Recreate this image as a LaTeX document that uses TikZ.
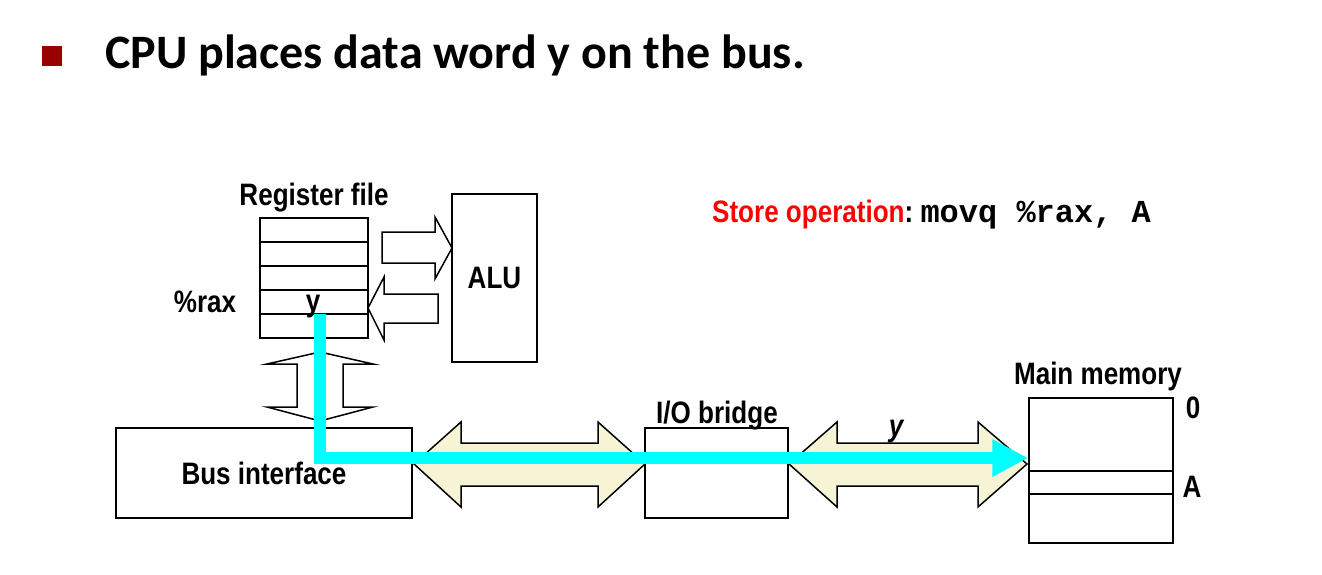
\documentclass[tikz,border=0pt]{standalone}
\usepackage{fontspec}
\setmainfont{Liberation Sans}
\setmonofont{Liberation Mono}
\newfontfamily\narrowfont[FakeStretch=0.84]{Liberation Sans}
\newfontfamily\titlefont{Carlito}
\usetikzlibrary{positioning,arrows.meta}
\definecolor{busfill}{RGB}{247,244,214}
\definecolor{bulletred}{RGB}{153,0,0}
\definecolor{flowcyan}{RGB}{0,255,255}

\begin{document}
\begin{tikzpicture}[x=1pt,y=1pt,
  box/.style={draw,line width=1.5pt,inner sep=0pt},
  lbl/.style={font=\narrowfont\bfseries\fontsize{31}{36}\selectfont,inner sep=0pt},
  blockarrow/.style={draw,line width=1.5pt,fill=white,line join=miter},
  busarrow/.style={blockarrow,fill=busfill},
  flow/.style={draw=flowcyan,line width=12pt,-{Triangle[length=36pt,width=35pt]}}]
  \useasboundingbox (0,0) rectangle (1322,-575);

  % title
  \fill[bulletred] (42,-46) rectangle (62,-66);
  \node[anchor=base west,inner sep=0pt,font=\titlefont\bfseries\fontsize{48}{56}\selectfont] (title) at (105,-69) {CPU places data word y on the bus.};

  % boxes
  \node[box,minimum width=108pt,minimum height=120pt] (rf) at (314,-278) {};
  \foreach \y in {242,266,290,314}
    \draw[line width=1.5pt] (260,-\y) -- (368,-\y);
  \node[box,lbl,minimum width=85pt,minimum height=168pt] (alu) at (494.5,-278) {ALU};
  \node[box,lbl,minimum width=296pt,minimum height=90pt] (bus) at (264,-473) {Bus interface};
  \node[box,minimum width=143pt,minimum height=90pt] (bridge) at (716.5,-473) {};
  \node[box,minimum width=144pt,minimum height=145pt] (mem) at (1101,-470.5) {};
  \draw[line width=1.5pt] (1029,-471) rectangle (1173,-494);

  % labels
  \node[lbl,above=5pt of rf] (rflbl) {Register file};
  \node[lbl,anchor=base] (rax) at (205,-312) {\%rax};
  \node[lbl,anchor=base] (yreg) at (313,-311) {y};
  \node[lbl,anchor=base] (bridgelbl) at (717,-423) {I/O bridge};
  \node[lbl,anchor=base] (memlbl) at (1098,-384) {Main memory};
  \node[lbl,anchor=base] (zero) at (1193,-418) {0};
  \node[lbl,anchor=base] (addr) at (1192,-497) {A};
  \node[lbl,anchor=base,font=\narrowfont\bfseries\itshape\fontsize{31}{36}\selectfont] (ybus) at (896,-436) {y};
  \node[lbl,anchor=base west] (store) at (712,-222)
    {\textcolor{red}{Store operation}:~{\ttfamily\bfseries\fontsize{32}{36}\selectfont movq \%rax, A}};

  % block arrows
  \draw[blockarrow] (382,-232) -- (435,-232) -- (435,-217) -- (452,-248) -- (435,-279) -- (435,-263) -- (382,-263) -- cycle;
  \draw[blockarrow] (438,-294) -- (384,-294) -- (384,-277) -- (368,-308) -- (384,-340) -- (384,-323) -- (438,-323) -- cycle;
  \draw[blockarrow] (320,-352) -- (373,-364) -- (343,-364) -- (343,-407) -- (373,-407) -- (320,-421)
    -- (267,-407) -- (297,-407) -- (297,-364) -- (267,-364) -- cycle;
  \foreach \a/\b/\c/\d in {414/461/598/645, 789/837/978/1027}
    \draw[busarrow] (\a,-464) -- (\b,-422) -- (\b,-443) -- (\c,-443) -- (\c,-422) -- (\d,-464)
      -- (\c,-507) -- (\c,-486) -- (\b,-486) -- (\b,-507) -- cycle;

  % data word y travels to memory
  \coordinate (ystart) at (320,-314);
  \coordinate (ytip) at (mem.west |- 0,-458);
  \draw[flow] (ystart) |- (ytip);
\end{tikzpicture}
\end{document}
